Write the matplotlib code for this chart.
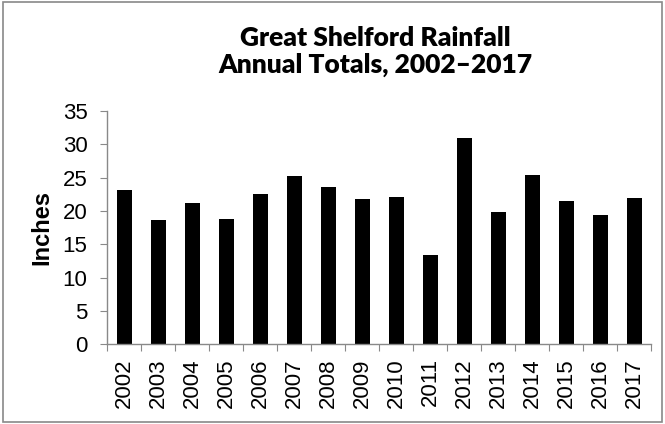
import matplotlib
matplotlib.use("Agg")
import matplotlib.pyplot as plt
import numpy as np

# ---- data ----
years = ["2002", "2003", "2004", "2005", "2006", "2007", "2008", "2009",
         "2010", "2011", "2012", "2013", "2014", "2015", "2016", "2017"]
rainfall_in = [23.15, 18.6, 21.25, 18.8, 22.55, 25.2, 23.65, 21.8,
               22.05, 13.45, 30.95, 19.8, 25.45, 21.45, 19.35, 21.9]
y_ticks = [0, 5, 10, 15, 20, 25, 30, 35]

title_lines = "Great Shelford Rainfall\nAnnual Totals, 2002\u20132017"

GREY = "#898989"

fig = plt.figure(figsize=(6.65, 4.24), dpi=100)
ax = fig.add_axes([0.161, 0.188, 0.818, 0.550])

x = np.arange(len(years))
ax.bar(x, rainfall_in, width=0.44, color="black")

ax.set_xlim(-0.5, len(years) - 0.5)
ax.set_ylim(0, 35)
ax.set_yticks(y_ticks)
ax.set_yticklabels([str(v) for v in y_ticks], fontsize=16, family="Liberation Sans")

# category boundary ticks on x, labels in between
ax.set_xticks(np.arange(-0.5, len(years), 1.0))
ax.set_xticklabels([])
ax.set_xticks(x, minor=True)
ax.set_xticklabels(years, minor=True, rotation=90, fontsize=16, family="Liberation Sans")
ax.tick_params(axis="x", which="minor", length=0, pad=10)
ax.tick_params(axis="x", which="major", length=5, color=GREY, direction="out")
ax.tick_params(axis="y", length=5, color=GREY, direction="out", pad=9)

for side in ["top", "right"]:
    ax.spines[side].set_visible(False)
for side in ["left", "bottom"]:
    ax.spines[side].set_color(GREY)
    ax.spines[side].set_linewidth(1.0)

ax.set_ylabel("Inches", fontsize=17, fontweight="bold", family="Liberation Sans", labelpad=7)

fig.text(0.565, 0.878, title_lines, ha="center", va="center", fontsize=19,
         fontweight="heavy", family="Lato", linespacing=1.15)

# chart border
fig.patches.append(plt.Rectangle((0.004, 0.004), 0.992, 0.992, transform=fig.transFigure,
                                 fill=False, edgecolor=GREY, linewidth=1.2))

fig.savefig("out.png", dpi=100)
